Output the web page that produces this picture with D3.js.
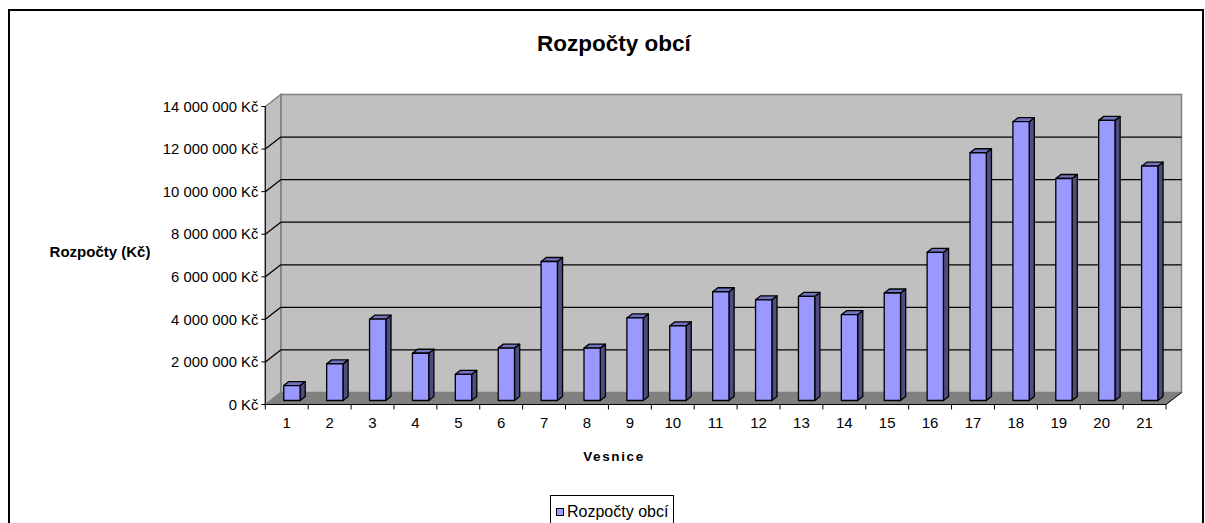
<!DOCTYPE html>
<html>
<head>
<meta charset="utf-8">
<script src="https://cdn.jsdelivr.net/npm/d3@7"></script>
<style>
  body { margin: 0; background: #fff; }
  text { font-family: Arial, "Liberation Sans", sans-serif; }
</style>
</head>
<body>
<div class="chart"></div>
<script>
const title = 'Rozpočty obcí'
const yTitle = 'Rozpočty (Kč)'
const xTitle = 'Vesnice'
const seriesName = 'Rozpočty obcí'

const villages = ['1', '2', '3', '4', '5', '6', '7', '8', '9', '10', '11',
  '12', '13', '14', '15', '16', '17', '18', '19', '20', '21']
const budgets = [700000, 1720000, 3820000, 2220000, 1230000, 2460000, 6530000,
  2460000, 3880000, 3510000, 5110000, 4730000, 4890000, 4030000, 5050000,
  6960000, 11640000, 13100000, 10430000, 13160000, 11010000]
const yTicks = [0, 2000000, 4000000, 6000000, 8000000, 10000000, 12000000, 14000000]

const width = 1205
const height = 523

// front plane of the 3d box and its depth offset
const plot = { left: 265.3, right: 1166, bottom: 404.5, top: 106.5 }
const depth = { x: 15.5, y: 12 }

const locale = d3.formatLocale({ decimal: ',', thousands: ' ', grouping: [3], currency: ['', ' Kč'] })
const fmt = locale.format('$,')

const svg = d3.select('.chart')
  .append('svg')
  .attr('width', width)
  .attr('height', height)

const x = d3.scaleBand()
  .domain(villages)
  .range([plot.left, plot.right])

const y = d3.scaleLinear()
  .domain([0, 14000000])
  .range([plot.bottom, plot.top])

// outer frame
svg.append('rect')
  .attr('x', 9).attr('y', 10)
  .attr('width', 1194).attr('height', 600)
  .attr('fill', 'none')
  .attr('stroke', '#000')
  .attr('stroke-width', 2)

svg.append('text')
  .attr('x', 614).attr('y', 51)
  .attr('text-anchor', 'middle')
  .style('font-size', '22.5px')
  .style('font-weight', 'bold')
  .text(title)

const bx = plot.left + depth.x
const bxr = plot.right + depth.x

// walls and floor
svg.append('rect')
  .attr('x', bx).attr('y', y(14000000) - depth.y)
  .attr('width', bxr - bx)
  .attr('height', y(0) - y(14000000))
  .attr('fill', '#c0c0c0')
  .attr('stroke', '#808080')
  .attr('stroke-width', 1.5)

svg.append('polygon')
  .attr('points', [[plot.left, y(0)], [plot.left, y(14000000)],
    [bx, y(14000000) - depth.y], [bx, y(0) - depth.y]].join(' '))
  .attr('fill', '#c0c0c0')
  .attr('stroke', '#808080')
  .attr('stroke-width', 1.5)

svg.append('polygon')
  .attr('points', [[plot.left, y(0)], [plot.right, y(0)],
    [bxr, y(0) - depth.y], [bx, y(0) - depth.y]].join(' '))
  .attr('fill', '#808080')
  .attr('stroke', '#808080')

// gridlines on left and back wall
const grid = svg.append('g')
  .selectAll('g')
  .data(yTicks.filter(d => d > 0 && d < 14000000))
  .enter().append('g')
  .attr('stroke', '#000')
  .attr('stroke-width', 1.3)

grid.append('line')
  .attr('x1', plot.left).attr('y1', d => y(d))
  .attr('x2', bx).attr('y2', d => y(d) - depth.y)

grid.append('line')
  .attr('x1', bx).attr('y1', d => y(d) - depth.y)
  .attr('x2', bxr).attr('y2', d => y(d) - depth.y)

// bars
const barW = x.bandwidth() * 0.38
const dx = depth.x / 3
const dy = depth.y / 3

const bar = svg.append('g')
  .selectAll('g')
  .data(villages.map((v, i) => ({ v, value: budgets[i] })))
  .enter().append('g')
  .attr('stroke', '#000')
  .attr('stroke-width', 1.3)
  .attr('stroke-linejoin', 'round')

bar.append('polygon')
  .attr('points', d => {
    const x0 = x(d.v) + (x.bandwidth() - barW) / 2 + dx + barW
    const yb = y(0) - dy
    const yt = y(d.value) - dy
    return [[x0, yb], [x0, yt], [x0 + dx, yt - dy], [x0 + dx, yb - dy]].join(' ')
  })
  .attr('fill', '#4d4d80')

bar.append('polygon')
  .attr('points', d => {
    const x0 = x(d.v) + (x.bandwidth() - barW) / 2 + dx
    const yt = y(d.value) - dy
    return [[x0, yt], [x0 + barW, yt], [x0 + barW + dx, yt - dy], [x0 + dx, yt - dy]].join(' ')
  })
  .attr('fill', '#7373bf')

bar.append('rect')
  .attr('x', d => x(d.v) + (x.bandwidth() - barW) / 2 + dx)
  .attr('y', d => y(d.value) - dy)
  .attr('width', barW)
  .attr('height', d => y(0) - y(d.value))
  .attr('fill', '#9999ff')

// axes
svg.append('line')
  .attr('x1', plot.left).attr('y1', y(0))
  .attr('x2', plot.left).attr('y2', y(14000000))
  .attr('stroke', '#000')

svg.append('line')
  .attr('x1', plot.left).attr('y1', y(0))
  .attr('x2', plot.right).attr('y2', y(0))
  .attr('stroke', '#000')

svg.append('line')
  .attr('x1', plot.right).attr('y1', y(0))
  .attr('x2', bxr).attr('y2', y(0) - depth.y)
  .attr('stroke', '#000')

const yAxis = svg.append('g')
  .selectAll('g')
  .data(yTicks)
  .enter().append('g')

yAxis.append('line')
  .attr('x1', plot.left - 4).attr('x2', plot.left)
  .attr('y1', d => y(d)).attr('y2', d => y(d))
  .attr('stroke', '#000')

yAxis.append('text')
  .attr('x', plot.left - 7)
  .attr('y', d => y(d))
  .attr('dy', '0.35em')
  .attr('text-anchor', 'end')
  .style('font-size', '14.8px')
  .text(d => fmt(d))

const xTickPos = villages.map(v => x(v)).concat([plot.right])
svg.append('g')
  .selectAll('line')
  .data(xTickPos)
  .enter().append('line')
  .attr('x1', d => d).attr('x2', d => d)
  .attr('y1', y(0)).attr('y2', y(0) + 5)
  .attr('stroke', '#000')

svg.append('g')
  .selectAll('text')
  .data(villages)
  .enter().append('text')
  .attr('x', d => x(d) + x.bandwidth() / 2)
  .attr('y', 428)
  .attr('text-anchor', 'middle')
  .style('font-size', '15px')
  .text(d => d)

svg.append('text')
  .attr('x', 614).attr('y', 461)
  .attr('text-anchor', 'middle')
  .style('font-size', '13.5px')
  .style('font-weight', 'bold')
  .style('letter-spacing', '1.6px')
  .text(xTitle)

svg.append('text')
  .attr('x', 100).attr('y', 257)
  .attr('text-anchor', 'middle')
  .style('font-size', '15px')
  .style('font-weight', 'bold')
  .text(yTitle)

// legend
const legend = svg.append('g')
legend.append('rect')
  .attr('x', 550.5).attr('y', 495.5)
  .attr('width', 123).attr('height', 40)
  .attr('fill', '#fff')
  .attr('stroke', '#000')
legend.append('rect')
  .attr('x', 556.5).attr('y', 508.5)
  .attr('width', 7).attr('height', 7)
  .attr('fill', '#9999ff')
  .attr('stroke', '#000')
legend.append('text')
  .attr('x', 567).attr('y', 517)
  .style('font-size', '16px')
  .text(seriesName)
</script>
</body>
</html>
